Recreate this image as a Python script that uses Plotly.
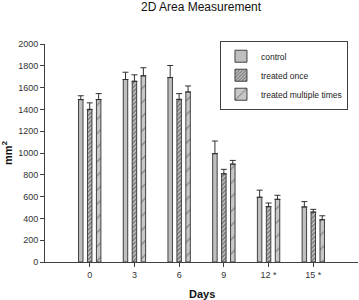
import plotly.graph_objects as go

days = ["0", "3", "6", "9", "12 *", "15 *"]
control = [1490, 1674, 1692, 994, 594, 505]
control_err = [1525, 1741, 1803, 1110, 659, 554]
once = [1400, 1658, 1492, 809, 508, 458]
once_err = [1460, 1717, 1545, 850, 541, 483]
multi = [1490, 1708, 1560, 898, 575, 388]
multi_err = [1545, 1782, 1615, 932, 612, 424]
series_names = ["control", "treated once", "treated multiple times"]

font = "Liberation Sans, Arial, sans-serif"

def err(tops, vals):
    return dict(type="data", symmetric=False, array=[t - v for t, v in zip(tops, vals)],
                arrayminus=[0] * len(vals), color="#303030", thickness=1, width=3)

fig = go.Figure()
fig.add_trace(go.Bar(x=days, y=control, name=series_names[0],
                     marker=dict(color="#bfbfbf", line=dict(color="#404040", width=1)),
                     error_y=err(control_err, control)))
fig.add_trace(go.Bar(x=days, y=once, name=series_names[1],
                     marker=dict(color="#bfbfbf", line=dict(color="#404040", width=1),
                                 pattern=dict(shape="/", size=3, solidity=0.55,
                                              fgcolor="#303030", bgcolor="#c8c8c8")),
                     error_y=err(once_err, once)))
fig.add_trace(go.Bar(x=days, y=multi, name=series_names[2],
                     marker=dict(color="#bfbfbf", line=dict(color="#404040", width=1),
                                 pattern=dict(shape="/", size=10, solidity=0.12,
                                              fgcolor="#404040", bgcolor="#c8c8c8")),
                     error_y=err(multi_err, multi)))

fig.update_layout(
    width=359, height=300,
    margin=dict(l=45, r=1, t=44, b=38, autoexpand=False),
    paper_bgcolor="white", plot_bgcolor="white",
    barmode="group", bargap=0.4, bargroupgap=0.5,
    font=dict(family=font, size=9, color="#222"),
    title=dict(text="2D Area Measurement", x=0.56, xanchor="center", y=0.99, yanchor="top",
               font=dict(size=12, color="#111")),
    showlegend=True,
    legend=dict(x=0.559, y=1.015, xanchor="left", yanchor="top",
                bordercolor="#404040", borderwidth=1, bgcolor="white",
                font=dict(size=8.5, color="#222"), tracegroupgap=0,
                itemwidth=30),
    xaxis=dict(type="category", range=[-1, 6], showline=True, linecolor="#404040", linewidth=1,
               ticks="outside", ticklen=4, tickcolor="#404040", showgrid=False,
               tickfont=dict(size=9, color="#333")),
    yaxis=dict(range=[0, 2000], dtick=200, showline=True, linecolor="#404040", linewidth=1,
               ticks="outside", ticklen=4, tickcolor="#404040", showgrid=False, zeroline=False,
               tickfont=dict(size=9, color="#333"),
               title=dict(text="<b>mm<sup>2</sup></b>", font=dict(size=11, color="#111"), standoff=8)),
    annotations=[dict(text="<b>Days</b>", xref="paper", yref="paper", x=0.5, y=-0.148,
                      xanchor="center", yanchor="middle", showarrow=False,
                      font=dict(size=11, color="#111"))],
)

fig.write_html("out.html", config={"displayModeBar": False},
               post_script="document.body.style.margin='0';document.body.style.overflow='hidden';")
